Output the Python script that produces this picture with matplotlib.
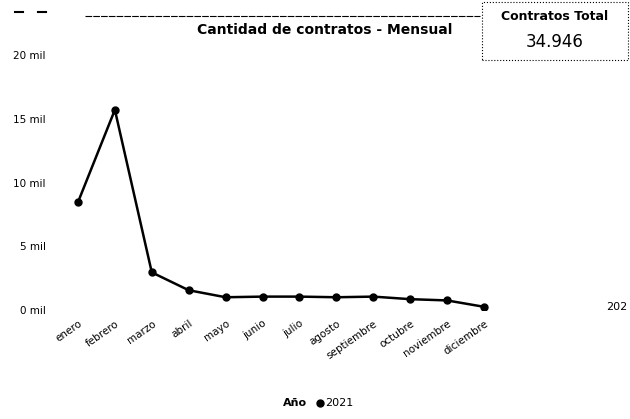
import matplotlib.pyplot as plt
from matplotlib.ticker import FuncFormatter

meses = ['enero', 'febrero', 'marzo', 'abril', 'mayo', 'junio', 'julio',
         'agosto', 'septiembre', 'octubre', 'noviembre', 'diciembre']
contratos = [8450, 15700, 2950, 1550, 1000, 1050, 1050, 1000, 1050, 850, 750, 250]
y_ticks = [0, 5000, 10000, 15000, 20000]
total = '34.946'
anio = '2021'

fig = plt.figure(figsize=(6.3, 4.19), dpi=100)
# axes placed in pixel fractions of the 630x419 canvas
ax = fig.add_axes([59.5 / 630, 1 - 310 / 419, 443 / 630, 255 / 419])

ax.plot(range(len(meses)), contratos, color='black', lw=1.8,
        marker='o', markersize=5)
ax.set_xlim(-0.5, len(meses) - 0.5)
ax.set_ylim(0, 20000)
ax.set_yticks(y_ticks)
ax.yaxis.set_major_formatter(FuncFormatter(lambda v, p: f'{int(v / 1000)} mil'))
ax.set_xticks(range(len(meses)))
ax.set_xticklabels(meses, rotation=35, ha='right', rotation_mode='anchor',
                   fontsize=7.5)
ax.tick_params(axis='y', labelsize=7.5, length=0, pad=10)
ax.tick_params(axis='x', length=0, pad=6)
for s in ax.spines.values():
    s.set_visible(False)

# series label, cut off at the right edge as in the source
ax.annotate(anio[:3], (len(meses) - 1, contratos[-1]), xytext=(88, 0),
            textcoords='offset points', fontsize=8, va='center', ha='left')

fig.text(325 / 630, 1 - 30 / 419, 'Cantidad de contratos - Mensual',
         ha='center', va='center', fontsize=10, fontweight='bold')

# top decoration lines
fig.add_artist(plt.Line2D([85 / 630, 480 / 630], [1 - 16 / 419] * 2,
                          color='black', lw=0.8, ls=(0, (6, 1))))
for x0 in (15, 38):
    fig.add_artist(plt.Line2D([x0 / 630, (x0 + 8) / 630], [1 - 12 / 419] * 2,
                              color='black', lw=1.5))

# KPI card
fig.add_artist(plt.Rectangle((482 / 630, 1 - 60 / 419), 146 / 630, 58 / 419,
                             fill=False, ec='black', lw=0.8, ls=':'))
fig.text(555 / 630, 1 - 16 / 419, 'Contratos Total', ha='center', va='center',
         fontsize=9, fontweight='bold')
fig.text(555 / 630, 1 - 42 / 419, total, ha='center', va='center', fontsize=12)

# legend
fig.text(283 / 630, 1 - 403 / 419, 'Año', ha='left', va='center', fontsize=8,
         fontweight='bold')
fig.lines.append(plt.Line2D([320 / 630], [1 - 403 / 419], marker='o',
                            color='black', markersize=5,
                            transform=fig.transFigure, figure=fig))
fig.text(325 / 630, 1 - 403 / 419, anio, ha='left', va='center', fontsize=8)

fig.savefig('out.png', dpi=100)
